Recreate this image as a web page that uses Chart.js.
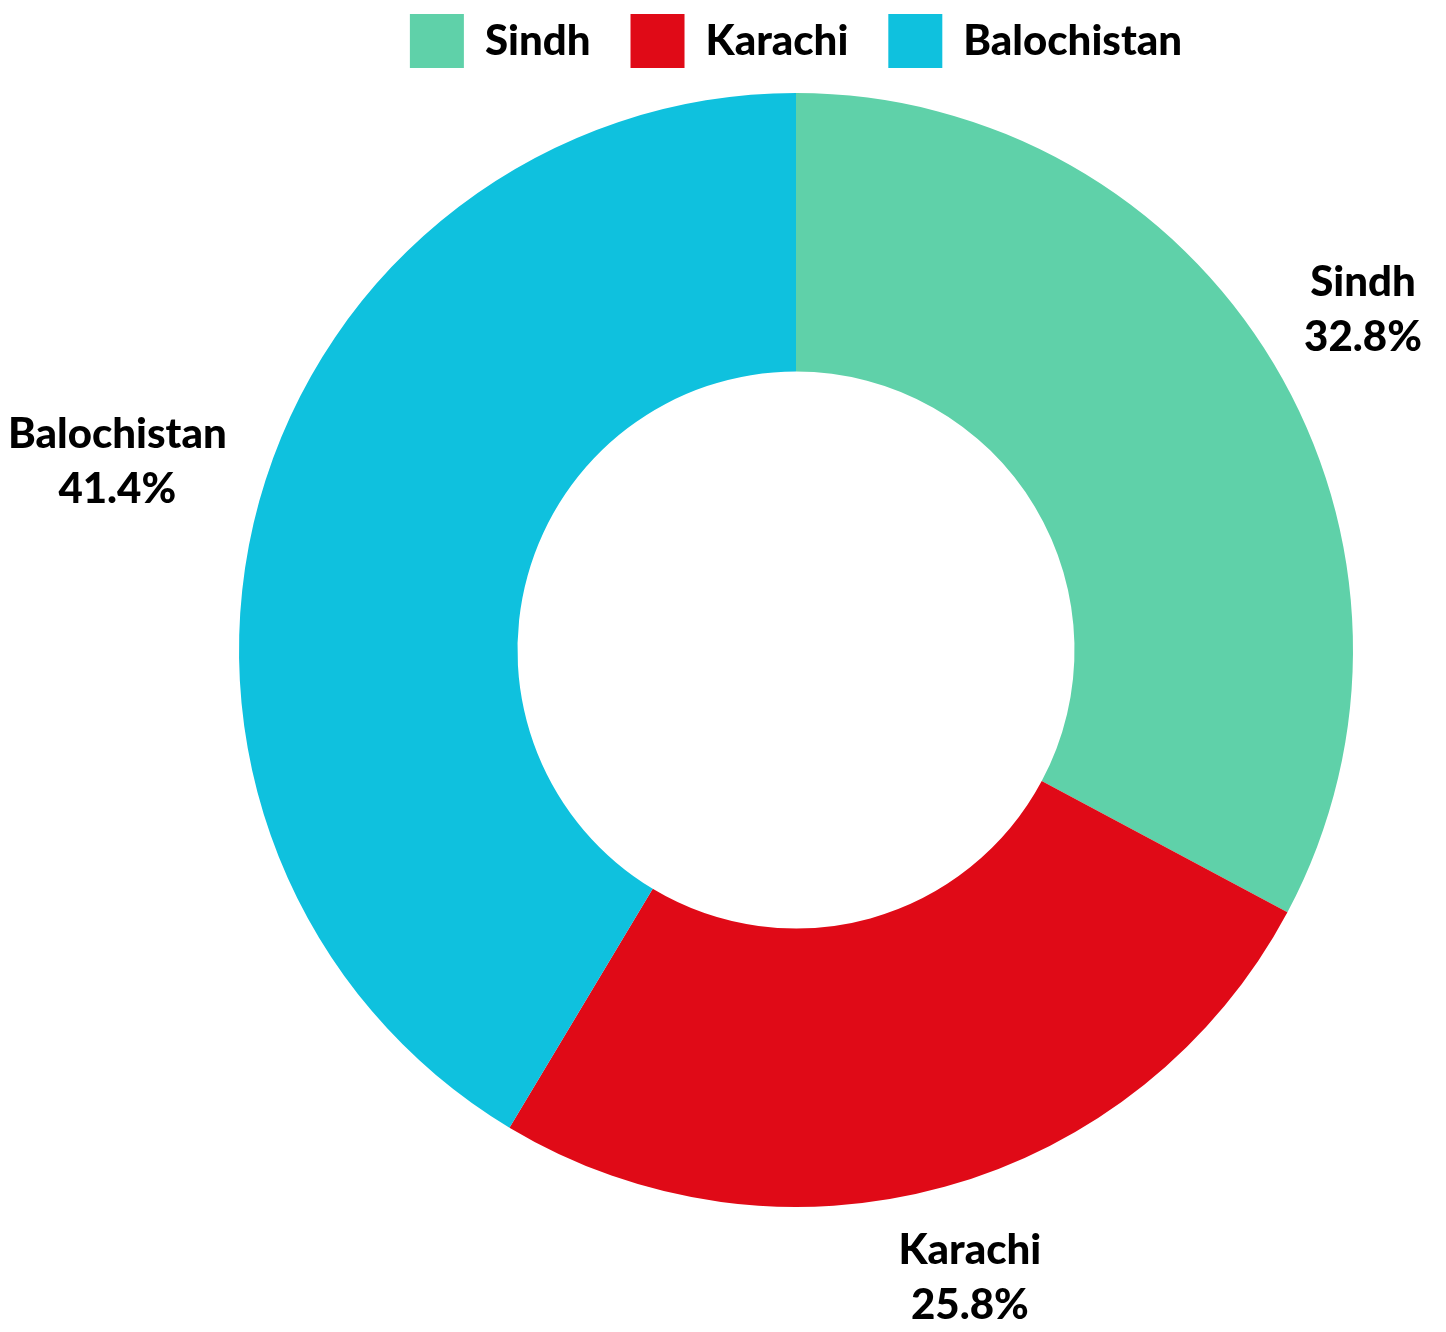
<!DOCTYPE html>
<html><head><meta charset="utf-8">
<script src="https://cdn.jsdelivr.net/npm/chart.js@4.4.0/dist/chart.umd.min.js"></script>
<style>html,body{margin:0;padding:0;background:#fff;} #wrap{width:1446px;height:1332px;}</style>
</head><body><div id="wrap"><canvas id="c" width="1446" height="1332"></canvas></div>
<script>
const categories = ['Sindh', 'Karachi', 'Balochistan'];
const shares = [32.8, 25.8, 41.4];
const valueLabels = ['32.8%', '25.8%', '41.4%'];
const colors = ['#5FD1A9', '#E00A17', '#0FC1DE'];
const FONT = 'Lato';
const FS = 42;
const FW = '900';

const outerLabels = {
  id: 'outerLabels',
  afterDatasetsDraw(chart) {
    const ctx = chart.ctx;
    const meta = chart.getDatasetMeta(0);
    ctx.save();
    ctx.font = `${FW} ${FS}px ${FONT}`;
    ctx.fillStyle = '#000';
    ctx.textAlign = 'center';
    ctx.textBaseline = 'middle';
    const lh = 55;
    meta.data.forEach((arc, i) => {
      const p = arc.getProps(['x', 'y', 'startAngle', 'endAngle', 'outerRadius'], true);
      const a = (p.startAngle + p.endAngle) / 2;
      const lines = [categories[i], valueLabels[i]];
      const w = Math.max(...lines.map(t => ctx.measureText(t).width));
      const h = 96;
      const cos = Math.cos(a), sin = Math.sin(a);
      const d = p.outerRadius + 29 + (w / 2) * Math.abs(cos) + (h / 2) * Math.abs(sin);
      const cx = p.x + cos * d, cy = p.y + sin * d;
      ctx.fillText(lines[0], cx, cy - lh / 2);
      ctx.fillText(lines[1], cx, cy + lh / 2);
    });
    ctx.restore();
  }
};

new Chart(document.getElementById('c'), {
  type: 'doughnut',
  data: {
    labels: categories,
    datasets: [{ data: shares, backgroundColor: colors, borderWidth: 0, hoverOffset: 0 }]
  },
  options: {
    responsive: false,
    animation: false,
    devicePixelRatio: 1,
    radius: 557,
    cutout: '50%',
    layout: { padding: { top: -26, left: 146, right: 0, bottom: 110 } },
    plugins: {
      tooltip: { enabled: false },
      legend: {
        position: 'top',
        labels: {
          boxWidth: 54, boxHeight: 54, padding: 40, color: '#000',
          font: { family: FONT, size: FS, weight: FW }
        }
      }
    }
  },
  plugins: [outerLabels]
});
</script>
</body></html>
